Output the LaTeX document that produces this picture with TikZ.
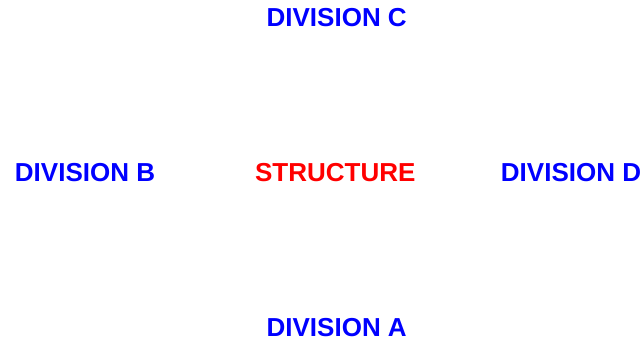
\documentclass[tikz,border=0pt]{standalone}
\usepackage{fontspec}
\setmainfont{Liberation Sans}
\definecolor{divblue}{RGB}{0,0,255}
\definecolor{strred}{RGB}{255,0,0}
\begin{document}
\begin{tikzpicture}[x=1pt,y=-1pt,
  lbl/.style={inner sep=0pt,anchor=base,font=\fontsize{26}{30}\selectfont\bfseries},
  div/.style={lbl,text=divblue},
  core/.style={lbl,text=strred}]
\useasboundingbox (0,0) rectangle (642,341);
\node[div] (c) at (336.7,26.7) {DIVISION C};
\node[div] (b) at (85,181.7) {DIVISION B};
\node[core] (s) at (335.3,181.7) {STRUCTURE};
\node[div] (d) at (571,181.7) {DIVISION D};
\node[div] (a) at (336.7,336.7) {DIVISION A};
\end{tikzpicture}
\end{document}
